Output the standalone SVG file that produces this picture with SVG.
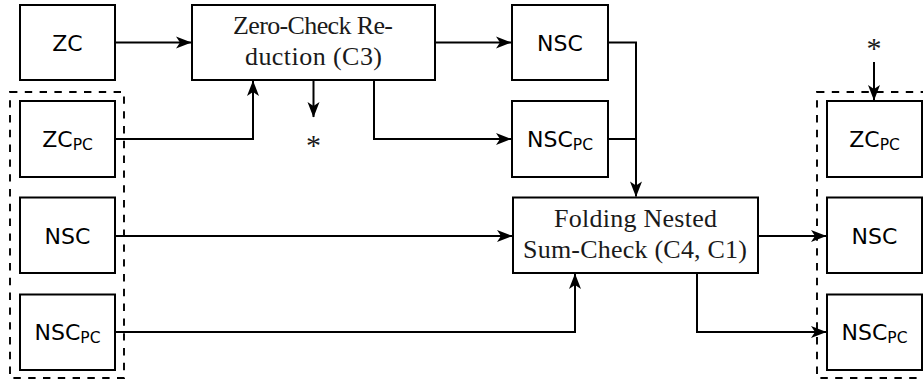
<svg xmlns="http://www.w3.org/2000/svg" width="923" height="379" viewBox="0 0 923 379">
<style>
.box{fill:#fff;stroke:#000;stroke-width:2}
.grp{fill:none;stroke:#000;stroke-width:1.9;stroke-dasharray:7.4 7.4}
.sf{font-family:"DejaVu Sans",sans-serif;font-size:22px;fill:#000}
.sub{font-size:15.5px}
.rm{font-family:"Liberation Serif",serif;font-size:26px;fill:#1a1a1a}
.ast{font-family:"Liberation Serif",serif;font-size:30px;fill:#1a1a1a}
.c{fill:none;stroke:#000;stroke-width:2}
</style>
<defs>
<marker id="ah" viewBox="-16 -7 17 14" refX="0" refY="0" markerWidth="17" markerHeight="14" markerUnits="userSpaceOnUse" orient="auto">
<path d="M0.5,0 L-15,-6 L-11,0 L-15,6 Z" fill="#000"/>
</marker>
</defs>

<rect class="grp" x="10" y="92" width="114" height="286"/>
<rect class="grp" x="817" y="92" width="114" height="286"/>

<g id="connectors">
<path class="c" d="M115,42.5 H191" marker-end="url(#ah)"/>
<path class="c" d="M115,139 H253 V81" marker-end="url(#ah)"/>
<path class="c" d="M313.5,80 V117" marker-end="url(#ah)"/>
<path class="c" d="M435,42.5 H511" marker-end="url(#ah)"/>
<path class="c" d="M374,80 V139 H511" marker-end="url(#ah)"/>
<path class="c" d="M608,42.5 H636 V196.5" marker-end="url(#ah)"/>
<path class="c" d="M608,139 H636"/>
<path class="c" d="M115,236 H512" marker-end="url(#ah)"/>
<path class="c" d="M115,332 H575 V274" marker-end="url(#ah)"/>
<path class="c" d="M758,236 H826" marker-end="url(#ah)"/>
<path class="c" d="M697,273 V332 H826" marker-end="url(#ah)"/>
<path class="c" d="M874,62 V100" marker-end="url(#ah)"/>
</g>

<g id="zc"><rect class="box" x="20" y="5" width="95" height="75"/><text class="sf" x="67.5" y="50.5" text-anchor="middle">ZC</text></g>
<g id="zcpc-in"><rect class="box" x="20" y="101" width="95" height="76"/><text class="sf" x="67.5" y="147" text-anchor="middle">ZC<tspan class="sub" dy="3">PC</tspan></text></g>
<g id="nsc-in"><rect class="box" x="20" y="197.5" width="95" height="75.5"/><text class="sf" x="67.5" y="244" text-anchor="middle">NSC</text></g>
<g id="nscpc-in"><rect class="box" x="20" y="294.5" width="95" height="75.5"/><text class="sf" x="67.5" y="340" text-anchor="middle">NSC<tspan class="sub" dy="3">PC</tspan></text></g>

<g id="zerocheck"><rect class="box" x="192" y="5" width="243" height="75"/>
<text class="rm" x="313" y="33.5" text-anchor="middle" textLength="160" lengthAdjust="spacing">Zero-Check Re-</text>
<text class="rm" x="313.5" y="65" text-anchor="middle" textLength="137" lengthAdjust="spacing">duction (C3)</text></g>
<g id="star1"><text class="ast" x="313.5" y="155" text-anchor="middle">*</text></g>

<g id="nsc-mid"><rect class="box" x="512" y="5" width="96" height="75"/><text class="sf" x="560" y="50.5" text-anchor="middle">NSC</text></g>
<g id="nscpc-mid"><rect class="box" x="512" y="101" width="96" height="76"/><text class="sf" x="560" y="147" text-anchor="middle">NSC<tspan class="sub" dy="3">PC</tspan></text></g>

<g id="folding"><rect class="box" x="513" y="197.5" width="245" height="75.5"/>
<text class="rm" x="635.5" y="226.5" text-anchor="middle" textLength="163" lengthAdjust="spacing">Folding Nested</text>
<text class="rm" x="635" y="258" text-anchor="middle" textLength="224" lengthAdjust="spacing">Sum-Check (C4, C1)</text></g>

<g id="star2"><text class="ast" x="874" y="58" text-anchor="middle">*</text></g>
<g id="zcpc-out"><rect class="box" x="827" y="101" width="95" height="76"/><text class="sf" x="874.5" y="147" text-anchor="middle">ZC<tspan class="sub" dy="3">PC</tspan></text></g>
<g id="nsc-out"><rect class="box" x="827" y="197.5" width="95" height="75.5"/><text class="sf" x="874.5" y="244" text-anchor="middle">NSC</text></g>
<g id="nscpc-out"><rect class="box" x="827" y="294.5" width="95" height="75.5"/><text class="sf" x="874.5" y="340" text-anchor="middle">NSC<tspan class="sub" dy="3">PC</tspan></text></g>
</svg>
